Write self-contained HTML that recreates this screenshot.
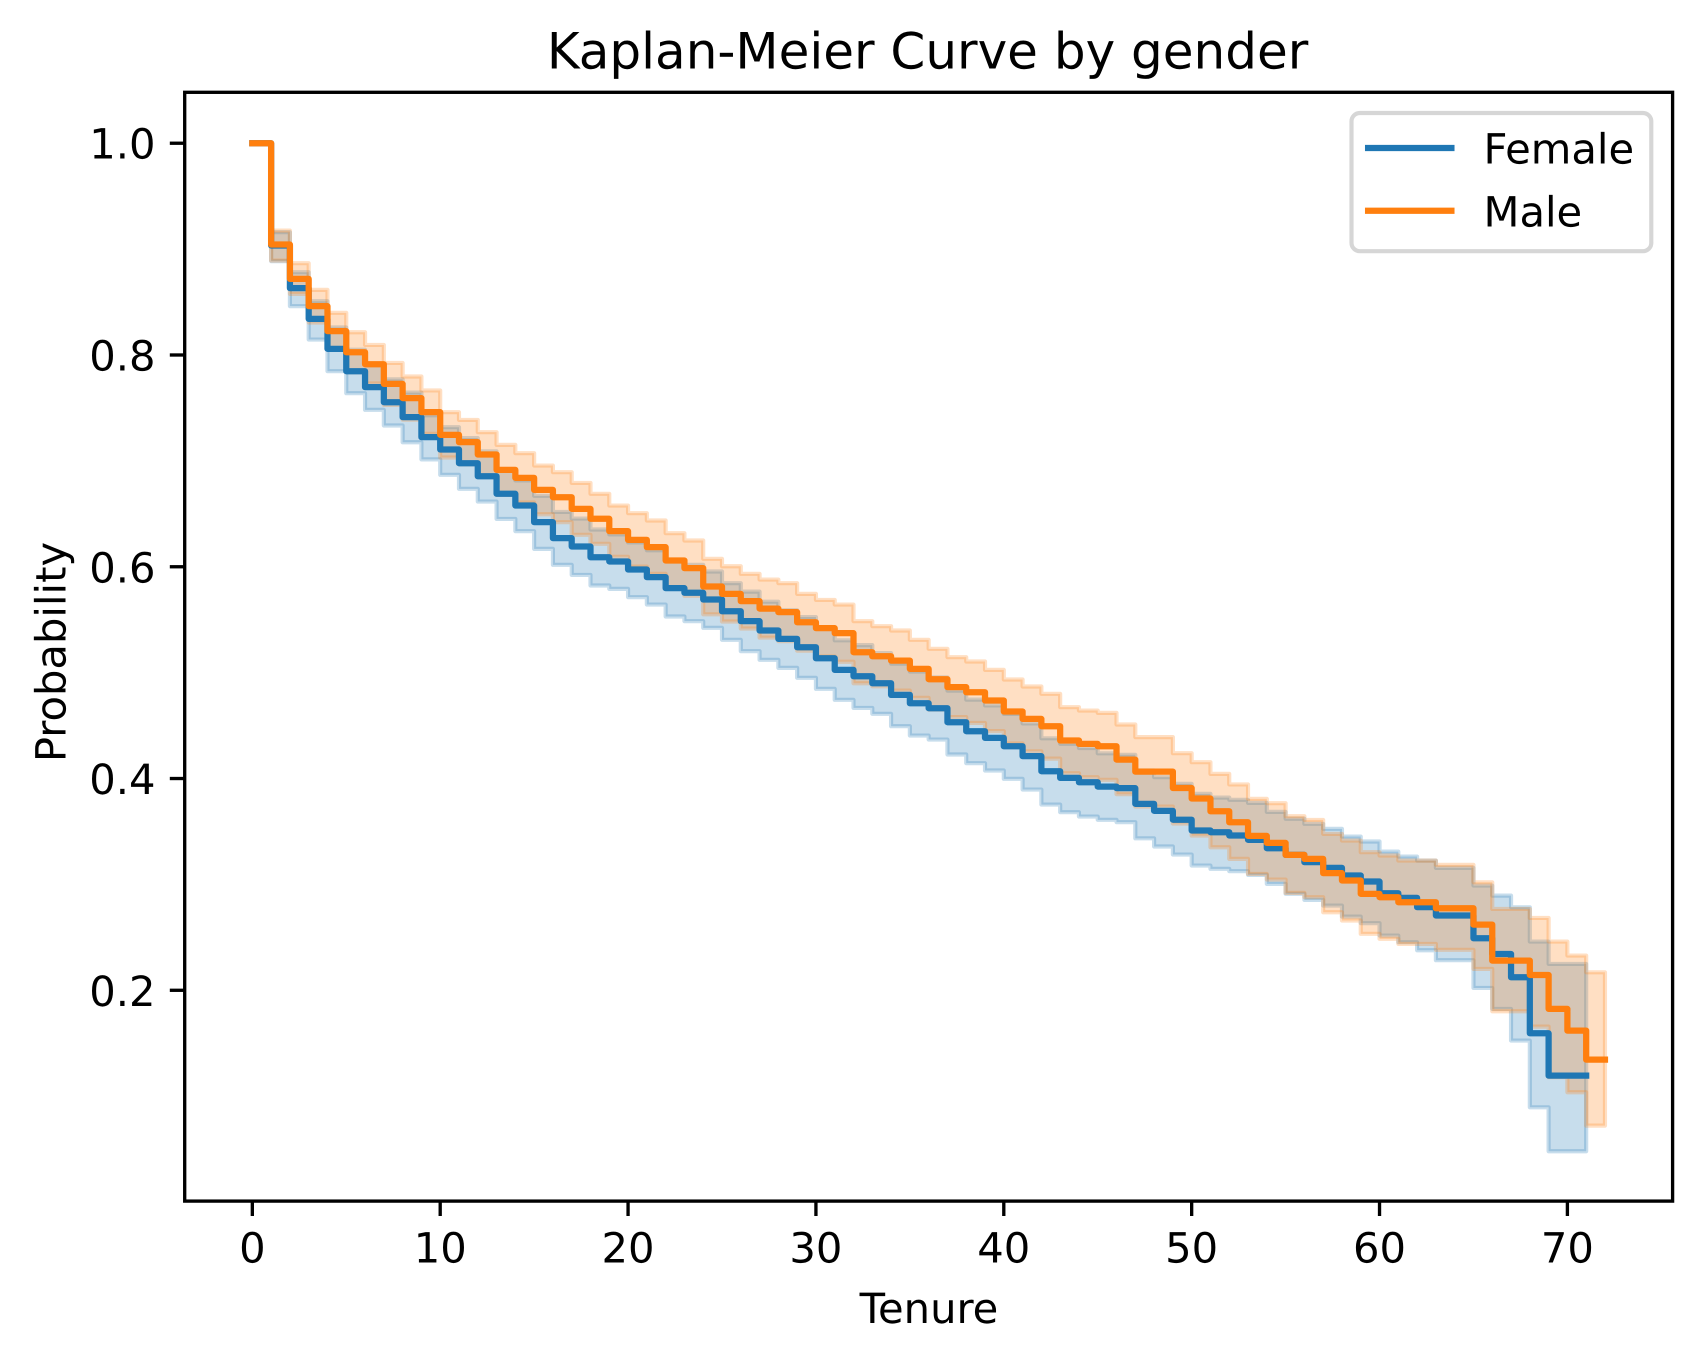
<!DOCTYPE html>
<html lang="en">
<head>
<meta charset="utf-8">
<title>Kaplan-Meier Curve by gender</title>
<style>
html,body{margin:0;padding:0;background:#fff;width:1702px;height:1361px;overflow:hidden}
svg{display:block}
text{font-family:"DejaVu Sans","Liberation Sans",sans-serif;fill:#000;text-rendering:geometricPrecision}
</style>
</head>
<body>
<svg id="chart" xmlns="http://www.w3.org/2000/svg" width="1702" height="1361" viewBox="0 0 1702 1361">
  <rect x="0" y="0" width="1702" height="1361" fill="#fff"/>
  <g id="bands"></g>
  <g id="lines"></g>
  <g id="xticks"></g>
  <g id="yticks"></g>
  <rect x="184.7" y="92.3" width="1487.9" height="1108.8" fill="none" stroke="#000" stroke-width="3.33" stroke-linejoin="miter"/>
  <text x="927.6" y="68.3" font-size="50" text-anchor="middle">Kaplan-Meier Curve by gender</text>
  <text x="929" y="1323" font-size="41.67" text-anchor="middle">Tenure</text>
  <text transform="translate(65.7 652) rotate(-90)" font-size="41.67" text-anchor="middle">Probability</text>
  <g>
    <rect x="1351.5" y="113" width="299.8" height="138.2" rx="8.33" ry="8.33" fill="#fff" fill-opacity="0.8" stroke="#ccc" stroke-opacity="0.8" stroke-width="4.17"/>
    <line x1="1368.1" y1="148" x2="1451.4" y2="148" stroke="#1f77b4" stroke-width="6.25" stroke-linecap="square"/>
    <text x="1483.5" y="163.3" font-size="41.67">Female</text>
    <line x1="1368.1" y1="210.7" x2="1451.4" y2="210.7" stroke="#ff7f0e" stroke-width="6.25" stroke-linecap="square"/>
    <text x="1483.5" y="226.7" font-size="41.67">Male</text>
  </g>
</svg>
<script>
const tenureTimes = [0,1,2,3,4,5,6,7,8,9,10,11,12,13,14,15,16,17,18,19,20,21,22,23,24,25,26,27,28,29,30,31,32,33,34,35,36,37,38,39,40,41,42,43,44,45,46,47,48,49,50,51,52,53,54,55,56,57,58,59,60,61,62,63,64,65,66,67,68,69,70,71,72];
const xTickValues = [0,10,20,30,40,50,60,70];
const xTickLabels = ["0","10","20","30","40","50","60","70"];
const yTickValues = [0.2,0.4,0.6,0.8,1.0];
const yTickLabels = ["0.2","0.4","0.6","0.8","1.0"];

const femaleSurvival = [1.0,.9034,.8631,.8341,.8058,.7847,.7696,.7554,.7413,.7224,.7107,.6978,.6855,.6689,.6578,.6421,.6270,.6191,.6090,.6050,.5974,.5902,.5798,.5754,.5691,.5580,.5486,.5398,.5319,.5240,.5136,.5026,.4966,.4900,.4790,.4711,.4664,.4532,.4447,.4384,.4305,.4211,.4069,.4006,.3965,.3924,.3909,.3761,.3695,.3611,.3509,.3493,.3462,.3421,.3342,.3279,.3210,.3156,.3084,.3027,.2917,.2873,.2785,.2706,.2706,.2491,.2343,.2123,.1594,.1194,.1194,.1194];
const femaleUpper = [1.0,.9160,.8782,.8508,.8260,.8050,.7905,.7770,.7645,.7430,.7318,.7215,.7090,.6920,.6815,.6670,.6518,.6455,.6352,.6305,.6230,.6156,.6062,.6018,.5955,.5845,.5765,.5670,.5590,.5525,.5420,.5305,.5260,.5185,.5085,.5010,.4955,.4830,.4745,.4690,.4610,.4520,.4380,.4328,.4288,.4238,.4224,.4076,.4013,.3950,.3855,.3820,.3799,.3770,.3685,.3620,.3572,.3525,.3452,.3405,.3310,.3263,.3225,.3156,.3156,.2989,.2894,.2784,.2460,.2249,.2249,.2249];
const femaleLower = [1.0,.8886,.8461,.8146,.7847,.7639,.7482,.7334,.7176,.7014,.6868,.6736,.6616,.6452,.6336,.6169,.6018,.5923,.5823,.5791,.5713,.5643,.5530,.5486,.5423,.5310,.5203,.5121,.5045,.4951,.4847,.4743,.4667,.4611,.4494,.4406,.4368,.4227,.4145,.4076,.3997,.3896,.3754,.3682,.3641,.3610,.3588,.3435,.3358,.3282,.3178,.3147,.3125,.3090,.3005,.2911,.2854,.2800,.2696,.2634,.2517,.2454,.2378,.2284,.2284,.2022,.1824,.1525,.0895,.0480,.0480,.0480];

const maleSurvival = [1.0,.9043,.8719,.8461,.8225,.8026,.7913,.7727,.7593,.7460,.7246,.7177,.7060,.6915,.6840,.6726,.6657,.6547,.6453,.6336,.6254,.6185,.6059,.5987,.5813,.5744,.5675,.5605,.5571,.5476,.5420,.5373,.5193,.5155,.5114,.5036,.4938,.4863,.4815,.4737,.4633,.4563,.4494,.4359,.4327,.4305,.4179,.4065,.4065,.3910,.3811,.3691,.3587,.3458,.3392,.3279,.3241,.3106,.3037,.2911,.2879,.2832,.2832,.2775,.2775,.2620,.2280,.2280,.2145,.1824,.1619,.1345,.1345];
const maleUpper = [1.0,.9175,.8867,.8615,.8398,.8215,.8095,.7925,.7797,.7665,.7460,.7387,.7271,.7151,.7073,.6956,.6893,.6792,.6689,.6578,.6506,.6437,.6317,.6248,.6075,.6005,.5933,.5879,.5845,.5744,.5687,.5643,.5486,.5439,.5398,.5310,.5225,.5146,.5105,.5026,.4935,.4869,.4800,.4674,.4642,.4620,.4510,.4391,.4391,.4239,.4154,.4044,.3944,.3808,.3767,.3644,.3609,.3477,.3414,.3304,.3273,.3225,.3225,.3185,.3185,.3020,.2768,.2768,.2683,.2460,.2328,.2170,.2170];
const maleLower = [1.0,.8892,.8577,.8307,.8052,.7837,.7731,.7529,.7389,.7255,.7032,.6967,.6849,.6679,.6607,.6496,.6421,.6302,.6217,.6094,.6002,.5933,.5801,.5726,.5551,.5483,.5417,.5331,.5297,.5208,.5153,.5103,.4900,.4871,.4830,.4762,.4651,.4580,.4525,.4448,.4331,.4257,.4188,.4050,.4012,.3988,.3852,.3735,.3735,.3575,.3461,.3351,.3241,.3099,.3046,.2920,.2879,.2737,.2659,.2533,.2486,.2438,.2438,.2382,.2382,.2202,.1802,.1802,.1657,.1179,.1037,.0722,.0722];

const SVG_NS = "http://www.w3.org/2000/svg";
const plotLeft = 184.7, plotRight = 1672.6, plotTop = 92.3, plotBottom = 1201.1;
const xDomainMin = -3.6, xDomainMax = 75.6;
const yDomainMin = 0.0009, yDomainMax = 1.0481;

function xScale(t) {
  return plotLeft + (t - xDomainMin) / (xDomainMax - xDomainMin) * (plotRight - plotLeft);
}
function yScale(p) {
  return plotBottom - (p - yDomainMin) / (yDomainMax - yDomainMin) * (plotBottom - plotTop);
}
function stepPoints(values) {
  const pts = [[xScale(tenureTimes[0]), yScale(values[0])]];
  for (let i = 1; i < values.length; i++) {
    pts.push([xScale(tenureTimes[i]), yScale(values[i - 1])]);
    pts.push([xScale(tenureTimes[i]), yScale(values[i])]);
  }
  return pts;
}
function toPath(pts) {
  return pts.map(function (p, i) {
    return (i ? "L" : "M") + p[0].toFixed(2) + " " + p[1].toFixed(2);
  }).join("");
}
function drawBand(upper, lower, color, name) {
  const path = document.createElementNS(SVG_NS, "path");
  
  
  path.setAttribute("d", toPath(stepPoints(upper).concat(stepPoints(lower).reverse())) + "Z");
  path.setAttribute("fill", color);
  path.setAttribute("fill-opacity", "0.25");
  path.setAttribute("stroke", color);
  path.setAttribute("stroke-opacity", "0.25");
  path.setAttribute("stroke-width", "4.17");
  path.setAttribute("stroke-linejoin", "round");
  document.getElementById("bands").appendChild(path);
}
function drawLine(values, color, name) {
  const path = document.createElementNS(SVG_NS, "path");
  
  
  path.setAttribute("d", toPath(stepPoints(values)));
  path.setAttribute("fill", "none");
  path.setAttribute("stroke", color);
  path.setAttribute("stroke-width", "6.25");
  path.setAttribute("stroke-linejoin", "round");
  path.setAttribute("stroke-linecap", "square");
  document.getElementById("lines").appendChild(path);
}

drawBand(femaleUpper, femaleLower, "#1f77b4", "female-confidence-band");
drawBand(maleUpper, maleLower, "#ff7f0e", "male-confidence-band");
drawLine(femaleSurvival, "#1f77b4", "female-survival-line");
drawLine(maleSurvival, "#ff7f0e", "male-survival-line");

xTickValues.forEach(function (v, i) {
  const px = xScale(v);
  const mark = document.createElementNS(SVG_NS, "line");
  
  
  mark.setAttribute("x1", px);
  mark.setAttribute("x2", px);
  mark.setAttribute("y1", plotBottom);
  mark.setAttribute("y2", plotBottom + 14.9);
  mark.setAttribute("stroke", "#000");
  mark.setAttribute("stroke-width", "3.33");
  document.getElementById("xticks").appendChild(mark);
  const label = document.createElementNS(SVG_NS, "text");
  
  
  label.setAttribute("x", px);
  label.setAttribute("y", 1262.7);
  label.setAttribute("font-size", "41.67");
  label.setAttribute("text-anchor", "middle");
  label.textContent = xTickLabels[i];
  document.getElementById("xticks").appendChild(label);
});

yTickValues.forEach(function (v, i) {
  const py = yScale(v);
  const mark = document.createElementNS(SVG_NS, "line");
  
  
  mark.setAttribute("x1", plotLeft - 14.9);
  mark.setAttribute("x2", plotLeft);
  mark.setAttribute("y1", py);
  mark.setAttribute("y2", py);
  mark.setAttribute("stroke", "#000");
  mark.setAttribute("stroke-width", "3.33");
  document.getElementById("yticks").appendChild(mark);
  const label = document.createElementNS(SVG_NS, "text");
  
  
  label.setAttribute("x", 155.5);
  label.setAttribute("y", py + 15.5);
  label.setAttribute("font-size", "41.67");
  label.setAttribute("text-anchor", "end");
  label.textContent = yTickLabels[i];
  document.getElementById("yticks").appendChild(label);
});
</script>
</body>
</html>
